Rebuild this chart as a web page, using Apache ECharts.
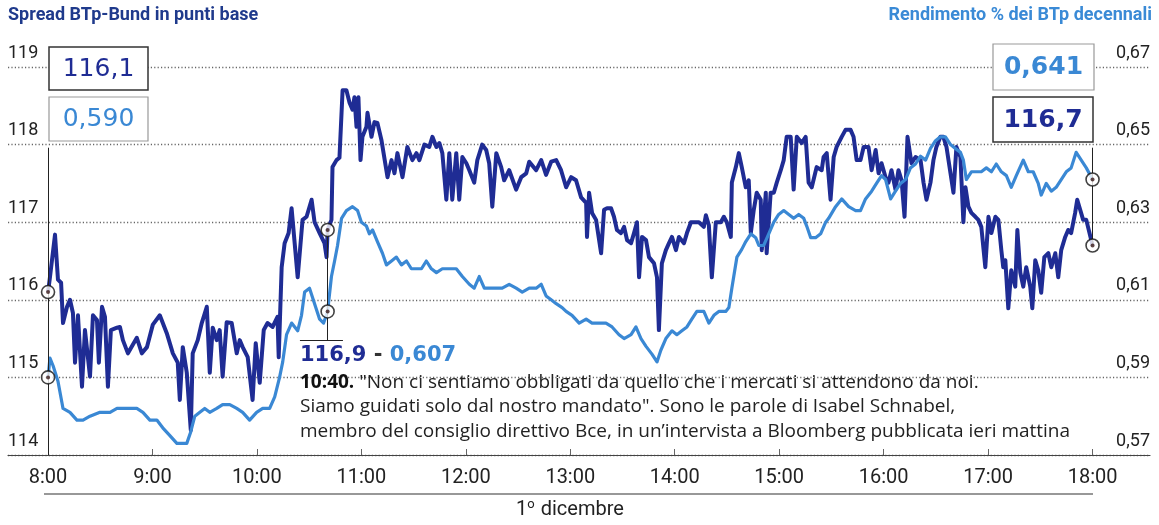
<!DOCTYPE html>
<html><head><meta charset="utf-8">
<script src="https://cdn.jsdelivr.net/npm/echarts@6/dist/echarts.min.js"></script>
<style>html,body{margin:0;padding:0;background:#fff}#c{width:1159px;height:525px}</style>
</head><body><div id="c"></div>
<script>
// ---- tick labels ----
const hourLabels = ['8:00','9:00','10:00','11:00','12:00','13:00','14:00','15:00','16:00','17:00','18:00'];
const hourValues = [480,540,600,660,720,780,840,900,960,1020,1080]; // minutes from midnight
const spreadTicks = [114,115,116,117,118,119];
const yieldTicks = [0.57,0.59,0.61,0.63,0.65,0.67];

// ---- Spread BTp-Bund (minutes after 8:00, basis points) ----
const spreadT = [
0,1.1,4,5.7,7.5,8.6,10.9,12.6,14.3,15.5,
17.2,19.5,21.2,24.1,25.8,28.1,29.2,31,32.7,34.4,
36.1,39.6,41.3,43,45.9,51,53.9,56.8,60.2,64.2,
68.2,71.7,74.5,75.7,77.4,79.7,82,83.1,86,88.3,
91.2,92.9,94.6,96.9,98.6,100.3,102.6,105.5,108.4,110.1,
111.8,114.7,117.5,119.3,121.6,123.9,126.1,129,131.8,132.5,
134.2,135.9,138.2,139.9,143.4,146.2,148.5,151.4,153.1,156,
158.8,160,160.6,162.8,163.4,165.7,167.4,169.2,171.4,173.2,
174.9,176,177.2,178.3,179.5,180.6,182.9,183.5,185.8,187.5,
189.2,191.5,195,197.3,199,200.7,203.6,206.4,209.3,211.6,
213.3,216.2,219,220.8,223.1,224.8,226.5,228.8,230.5,232.2,
234.5,236.2,238,240.3,242,244.8,246.6,249.4,251.7,253.4,
255.2,257.5,260.3,262,264.9,268.9,271.8,274.7,276.4,280.4,
283.3,286.1,289,291.9,294.7,297.6,300.5,303.3,306.2,309.1,
309.6,310.8,312.5,314.8,317.7,319.4,321.1,323.4,325.1,326.8,
329.1,330.9,332.6,334.9,336.6,338.3,339.5,341.2,343.5,345.2,
348.1,349.8,350.9,352.6,354.9,356.7,358.4,360.7,362.4,365.3,
367,369.3,373.9,376.7,377.9,379.6,381.3,383.6,386.5,388.2,
389.9,392.2,392.8,395.1,396.8,398.5,400.8,402.5,403.7,405.4,
407.1,409.4,410,412.3,412.8,415.1,416.9,418.6,420.9,422.6,
424.3,426.6,428.3,430.1,432.9,435.2,436.9,438.7,441.5,444.4,
445.5,447.3,449.5,451.3,453,455.9,458.1,461,462.7,464.5,
466.7,468.5,471.3,473.1,475.4,477.1,478.8,481.1,482.8,484.5,
486.8,488.5,490.3,492,493.7,496,498.3,501.2,502.9,504.6,
506.9,508.6,510.3,512.6,514.3,516.1,518.4,520.1,521.8,524.1,
525.8,527,528.7,530.4,532.7,534.4,536.1,538.4,540.2,541.9,
544.2,545.9,547.6,548.7,549.9,551.6,553.3,555.6,556.8,558.5,
560.2,561.9,564.2,565.4,567.1,568.8,570.5,572.3,574.6,576.3,
578.6,580.3,582,584.3,586,587.7,590,591.2,592.9,594.6,
596.4,600];
const spreadV = [
116.1,116.29,116.84,116.26,116.22,115.70,115.91,116.00,115.83,115.19,
115.80,114.88,115.61,115.01,115.80,115.74,115.19,115.91,115.78,114.88,
115.61,115.64,115.65,115.48,115.31,115.51,115.31,115.39,115.68,115.80,
115.57,115.31,115.19,114.71,115.39,115.06,114.32,115.31,115.48,115.70,
115.91,115.06,115.64,115.48,115.61,115.01,115.71,115.70,115.31,115.48,
115.39,115.26,114.71,115.44,114.93,115.61,115.70,115.65,115.78,115.26,
116.42,116.73,116.86,117.18,116.29,117.03,117.07,117.29,117.00,116.86,
116.73,116.55,116.9,117.03,117.71,117.80,117.83,118.70,118.70,118.54,
118.45,118.61,118.23,118.61,117.80,118.10,118.23,118.41,118.10,118.29,
118.28,118.06,117.58,117.80,117.63,117.89,117.58,117.97,117.80,117.89,
117.80,118.00,117.97,118.10,117.97,118.02,117.89,117.29,117.89,117.29,
117.89,117.29,117.84,117.76,117.67,117.51,117.80,118.00,117.93,117.76,
117.20,117.89,117.71,117.54,117.67,117.42,117.58,117.63,117.78,117.67,
117.80,117.61,117.78,117.80,117.67,117.45,117.58,117.54,117.32,117.25,
116.81,117.38,117.12,117.03,116.60,117.16,117.18,117.18,117.07,116.90,
116.86,116.94,116.77,116.73,116.86,117.00,116.29,116.81,116.77,116.55,
116.47,116.29,115.61,116.47,116.64,116.73,116.81,116.64,116.81,116.73,
116.86,117.00,117.00,116.94,117.09,116.96,116.29,117.00,117.00,117.07,
117.00,116.81,117.51,117.71,117.89,117.71,117.45,117.54,116.86,117.16,
117.38,117.29,116.64,117.38,116.60,117.38,117.38,117.51,117.67,117.80,
118.10,118.10,117.42,118.10,118.02,118.10,117.51,117.45,117.71,117.67,
117.84,117.89,117.29,117.84,117.97,118.10,118.19,118.19,118.10,117.80,
117.80,117.97,117.97,117.67,117.93,117.63,117.76,117.58,117.51,117.67,
117.42,117.67,117.54,117.07,118.10,117.76,117.84,117.80,117.51,117.29,
117.51,117.80,117.97,118.10,118.10,117.97,117.63,117.38,117.97,117.84,
117.00,117.45,117.20,117.12,117.07,117.03,116.94,116.42,117.07,116.86,
117.07,117.03,116.64,116.42,116.51,115.89,116.38,116.17,116.90,116.35,
116.17,116.42,116.17,115.89,116.51,116.38,116.09,116.55,116.60,116.42,
116.60,116.29,116.64,116.81,116.90,116.86,117.12,117.29,117.16,117.03,
117.03,116.7];

// ---- Rendimento % BTp decennali (minutes after 8:00, %) ----
const yieldT = [
0,1.1,2.9,5.7,8.6,12.6,16.6,20.1,24.1,29.8,
35.6,39.6,45.3,51,54.5,58.5,62.5,65.9,70,74,
79.7,82,84.3,87.2,90,92.9,96.9,100.3,104.4,108.4,
111.8,115.8,119.8,123.3,127.3,130.2,133,134.8,137,139.9,
143.4,145.6,147.4,150.2,153.1,156,158.3,160.6,162.8,164.6,
166.3,168.6,171.4,174.9,177.8,180,182.9,184.6,186.4,189.2,
192.1,194.4,197.3,200.1,203,205.9,208.7,211.6,214.5,217.3,
220.2,223.1,226.5,230.5,234.5,238,242,244.8,247.7,250.6,
253.4,257.5,260.9,264.9,268.9,272.4,276.4,280.4,283.3,286.1,
289,291.9,295.3,297.6,301,305.1,309.1,312.5,316.5,320.5,
324,328,330.9,334.9,337.7,340.6,343.5,346.9,349.8,352,
354.9,358.4,361.2,364.1,367,369.8,372.7,376.7,379.6,382.5,
385.3,389.3,391.1,392.8,395.7,398.5,400.8,403.7,406.5,408.3,
411.1,414,416.9,419.7,422.6,425.5,428.3,431.2,434.1,435.8,
438.1,440.9,443.8,446.7,448.4,452.4,455.9,459.9,463.9,466.7,
469.6,473.1,475.9,478.8,481.1,484,486.8,489.7,492.6,495.4,
498.3,501.2,504.1,506.9,509.8,512.6,515.5,518.4,521.2,524.1,
525.8,527.5,530.4,533.3,536.1,539,541.9,544.7,547.6,550.5,
553.3,556.2,560.2,563.1,565.9,568.8,570.5,573.4,576.3,579.1,
582,584.9,587.7,590.6,593.5,596.4,600];
const yieldV = [
0.590,0.595,0.593,0.589,0.582,0.581,0.579,0.579,0.580,0.581,
0.581,0.582,0.582,0.582,0.581,0.579,0.579,0.577,0.575,0.573,
0.573,0.576,0.580,0.581,0.582,0.581,0.582,0.583,0.583,0.582,
0.581,0.579,0.581,0.582,0.582,0.585,0.590,0.594,0.601,0.604,
0.602,0.606,0.612,0.613,0.609,0.605,0.604,0.607,0.616,0.620,
0.624,0.631,0.633,0.634,0.633,0.630,0.629,0.627,0.628,0.625,
0.622,0.619,0.620,0.621,0.619,0.620,0.618,0.618,0.618,0.620,
0.618,0.617,0.618,0.618,0.618,0.616,0.614,0.613,0.616,0.613,
0.613,0.613,0.613,0.614,0.613,0.612,0.613,0.613,0.614,0.611,
0.610,0.609,0.608,0.607,0.606,0.604,0.605,0.604,0.604,0.604,
0.603,0.601,0.600,0.601,0.603,0.600,0.598,0.596,0.594,0.597,
0.600,0.602,0.601,0.602,0.603,0.605,0.607,0.607,0.604,0.606,
0.607,0.607,0.608,0.613,0.621,0.623,0.625,0.627,0.626,0.624,
0.624,0.627,0.630,0.632,0.633,0.632,0.631,0.632,0.631,0.629,
0.626,0.626,0.627,0.630,0.631,0.634,0.636,0.634,0.633,0.633,
0.636,0.638,0.640,0.642,0.641,0.636,0.638,0.640,0.641,0.644,
0.645,0.647,0.646,0.649,0.651,0.652,0.652,0.650,0.649,0.648,
0.646,0.641,0.643,0.643,0.643,0.644,0.643,0.645,0.643,0.642,
0.639,0.642,0.646,0.643,0.643,0.640,0.637,0.640,0.638,0.639,
0.641,0.643,0.644,0.648,0.646,0.644,0.641];

const eventT = 160.6; // 10:40 statement
const eventText = [
  '{b|10:40.} "Non ci sentiamo obbligati da quello che i mercati si attendono da noi.',
  'Siamo guidati solo dal nostro mandato". Sono le parole di Isabel Schnabel,',
  'membro del consiglio direttivo Bce, in un\u2019intervista a Bloomberg pubblicata ieri mattina'
];

// ---- build ----
const NAVY = '#1f2c94', LBLUE = '#3a88d4', TXT = '#222';
const FONT = 'Roboto, "Noto Sans", sans-serif';
const QFONT = '"Open Sans", Roboto, sans-serif';
const BOXFONT = '"DejaVu Sans", Roboto, sans-serif';
const fmt = (v, d) => v.toFixed(d).replace('.', ',');
const sData = spreadT.map((t, i) => [480 + t, spreadV[i]]);
const yData = yieldT.map((t, i) => [480 + t, yieldV[i]]);
const si = spreadT.indexOf(eventT), yi = yieldT.indexOf(eventT);
const sMarks = [sData[0], sData[si], sData[sData.length - 1]];
const yMarks = [yData[0], yData[yi], yData[yData.length - 1]];

const chart = echarts.init(document.getElementById('c'), null, { renderer: 'canvas' });

function markerSeries(data, axis) {
  return [
    { type: 'scatter', yAxisIndex: axis, data: data, symbol: 'circle', symbolSize: 13, silent: true,
      itemStyle: { color: '#fff', borderColor: '#111', borderWidth: 1.6 }, z: 10 },
    { type: 'scatter', yAxisIndex: axis, data: data, symbol: 'circle', symbolSize: 4, silent: true,
      itemStyle: { color: '#3a1a1a' }, z: 11 }
  ];
}

const option = {
  animation: false,
  grid: { left: 8, right: 9, top: 67, bottom: 70 },
  xAxis: {
    type: 'value', min: 457, max: 1113,
    axisLine: { show: true, lineStyle: { color: '#444', width: 1.2 } },
    splitLine: { show: false },
    axisTick: { show: true, inside: true, length: 6, customValues: hourValues, lineStyle: { color: '#666' } },
    axisLabel: { customValues: hourValues, formatter: v => hourLabels[hourValues.indexOf(v)],
      fontSize: 20, color: TXT, fontFamily: FONT, margin: 13 }
  },
  yAxis: [
    { type: 'value', min: spreadTicks[0], max: spreadTicks[spreadTicks.length - 1], interval: 1, position: 'left',
      axisLine: { show: false }, axisTick: { show: false },
      splitLine: { show: true, lineStyle: { type: [1.2, 2.2], color: '#666', width: 1.3 } },
      axisLabel: { inside: true, margin: 0, align: 'left', verticalAlign: 'bottom', padding: [0, 0, 5, 0],
        fontSize: 18, color: TXT, fontFamily: FONT, customValues: spreadTicks } },
    { type: 'value', min: yieldTicks[0], max: yieldTicks[yieldTicks.length - 1], position: 'right',
      axisLine: { show: false }, axisTick: { show: false }, splitLine: { show: false },
      axisLabel: { inside: true, margin: 0, align: 'right', verticalAlign: 'bottom', padding: [0, 0, 5, 0],
        customValues: yieldTicks, formatter: v => fmt(v, 2),
        fontSize: 18, color: TXT, fontFamily: FONT } }
  ],
  series: [
    { type: 'line', name: 'Spread', yAxisIndex: 0, data: sData, showSymbol: false, silent: true,
      lineStyle: { color: NAVY, width: 4, join: 'round' }, z: 3,
      markLine: { silent: true, symbol: 'none', label: { show: false },
        lineStyle: { color: '#222', width: 1, type: 'solid' },
        data: [
          [{ coord: [sData[0][0], 117.96] }, { coord: [sData[0][0], 114] }],
          [{ coord: [sData[sData.length - 1][0], 117.96] }, { coord: sData[sData.length - 1] }],
          [{ coord: sData[si] }, { coord: [sData[si][0], 115.48] }],
          [{ coord: [624.7, 115.48] }, { coord: [649.4, 115.48] }]
        ] } },
    { type: 'line', name: 'Rendimento', yAxisIndex: 1, data: yData, showSymbol: false, silent: true,
      lineStyle: { color: LBLUE, width: 3.2, join: 'round' }, z: 4 },
    ...markerSeries(sMarks, 0),
    ...markerSeries(yMarks, 1)
  ],
  graphic: [
    { type: 'text', left: 8, top: 6, style: { text: 'Spread BTp-Bund in punti base', font: 'bold 18px ' + FONT, fill: '#1f3a8c' } },
    { type: 'text', right: 7, top: 6, style: { text: 'Rendimento % dei BTp decennali', font: 'bold 18px ' + FONT, fill: '#3a8ad6' } },
    // value boxes
    { type: 'rect', shape: { x: 49, y: 47, width: 99, height: 43 }, style: { fill: '#fff', stroke: '#333', lineWidth: 1.5 }, z: 20 },
    { type: 'text', z: 21, style: { x: 98.5, y: 69, align: 'center', verticalAlign: 'middle', text: fmt(sData[0][1], 1), font: '25px ' + BOXFONT, fill: NAVY } },
    { type: 'rect', shape: { x: 49, y: 97, width: 99, height: 44 }, style: { fill: '#fff', stroke: '#999', lineWidth: 1.2 }, z: 20 },
    { type: 'text', z: 21, style: { x: 98.5, y: 119.5, align: 'center', verticalAlign: 'middle', text: fmt(yData[0][1], 3), font: '25px ' + BOXFONT, fill: LBLUE } },
    { type: 'rect', shape: { x: 993, y: 44, width: 101, height: 46 }, style: { fill: '#fff', stroke: '#999', lineWidth: 1.2 }, z: 20 },
    { type: 'text', z: 21, style: { x: 1043.5, y: 67.5, align: 'center', verticalAlign: 'middle', text: fmt(yData[yData.length - 1][1], 3), font: 'bold 25px ' + BOXFONT, fill: LBLUE } },
    { type: 'rect', shape: { x: 993, y: 97, width: 100, height: 45 }, style: { fill: '#fff', stroke: '#333', lineWidth: 1.5 }, z: 20 },
    { type: 'text', z: 21, style: { x: 1043, y: 120, align: 'center', verticalAlign: 'middle', text: fmt(sData[sData.length - 1][1], 1), font: 'bold 25px ' + BOXFONT, fill: NAVY } },
    // event label
    { type: 'text', z: 21, style: { x: 300, y: 356, verticalAlign: 'middle',
      text: '{a|' + fmt(sData[si][1], 1) + '}{m| - }{c|' + fmt(yData[yi][1], 3) + '}',
      rich: { a: { font: 'bold 21px ' + BOXFONT, fill: NAVY }, m: { font: 'bold 21px ' + BOXFONT, fill: '#333' }, c: { font: 'bold 21px ' + BOXFONT, fill: LBLUE } } } },
    { type: 'text', z: 21, style: { x: 300, y: 370, text: eventText.join('\n'), font: '19px ' + QFONT, fill: TXT, lineHeight: 24.5,
      rich: { b: { font: 'bold 19px ' + QFONT, fill: '#111', lineHeight: 24.5 } } } },
    // date line
    { type: 'line', shape: { x1: 44, y1: 494, x2: 1093, y2: 494 }, style: { stroke: '#333', lineWidth: 1.2 } },
    { type: 'text', style: { x: 570, y: 510, align: 'center', verticalAlign: 'middle',
      text: '{n|1}{s|o}{n| dicembre}',
      rich: { n: { font: '20px ' + FONT, fill: TXT }, s: { font: '13px ' + FONT, fill: TXT, padding: [0, 1, 10, 0] } } } }
  ]
};
chart.setOption(option);
</script>
</body></html>
